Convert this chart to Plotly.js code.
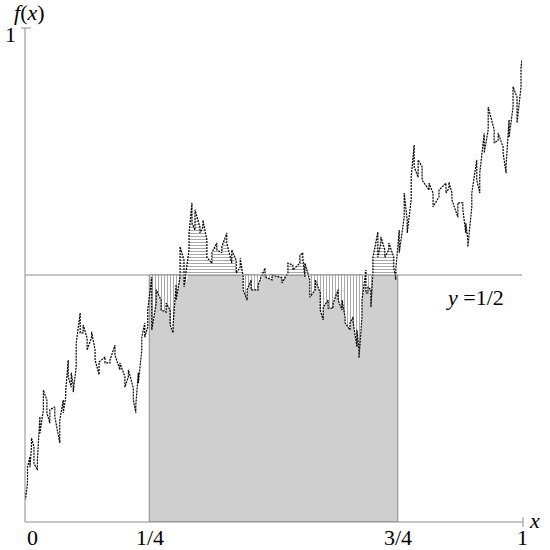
<!DOCTYPE html>
<html><head><meta charset="utf-8">
<script src="https://cdn.plot.ly/plotly-3.0.1.min.js"></script>
<style>html,body{margin:0;padding:0;background:#fff}#chart{width:550px;height:550px}</style>
</head><body><div id="chart"></div>
<script>
// sampled curve: x, and the top / bottom of the dotted streak at each x
const xs = [0.001,0.005,0.010,0.013,0.018,0.025,0.030,0.037,0.044,0.050,0.060,0.070,0.077,0.082,0.087,0.093,0.097,0.103,0.111,0.117,0.125,0.134,0.141,0.149,0.161,0.171,0.181,0.191,0.201,0.208,0.218,0.223,0.228,0.235,0.241,0.247,0.255,0.264,0.274,0.284,0.292,0.298,0.304,0.312,0.320,0.330,0.336,0.342,0.352,0.358,0.366,0.376,0.386,0.396,0.406,0.416,0.425,0.433,0.439,0.447,0.455,0.469,0.483,0.497,0.517,0.529,0.539,0.553,0.559,0.563,0.573,0.584,0.594,0.600,0.610,0.620,0.630,0.638,0.644,0.654,0.660,0.668,0.672,0.678,0.686,0.690,0.696,0.700,0.710,0.716,0.724,0.732,0.742,0.746,0.753,0.763,0.769,0.777,0.783,0.791,0.799,0.813,0.821,0.833,0.847,0.853,0.859,0.871,0.881,0.887,0.891,0.899,0.909,0.915,0.924,0.932,0.944,0.952,0.962,0.968,0.974,0.982,0.990,0.998,1.000];
const yHi = [0.059,0.111,0.132,0.170,0.152,0.126,0.213,0.267,0.247,0.227,0.233,0.206,0.247,0.267,0.328,0.302,0.277,0.362,0.423,0.399,0.372,0.385,0.348,0.324,0.334,0.328,0.358,0.322,0.294,0.308,0.271,0.237,0.302,0.374,0.403,0.429,0.496,0.470,0.449,0.443,0.429,0.399,0.480,0.557,0.530,0.585,0.646,0.632,0.597,0.611,0.571,0.545,0.565,0.557,0.585,0.551,0.530,0.534,0.496,0.470,0.490,0.480,0.514,0.500,0.494,0.524,0.520,0.540,0.545,0.524,0.490,0.490,0.464,0.435,0.449,0.443,0.470,0.449,0.415,0.403,0.415,0.389,0.348,0.449,0.510,0.476,0.470,0.536,0.587,0.577,0.551,0.565,0.536,0.510,0.591,0.666,0.611,0.698,0.763,0.733,0.719,0.686,0.666,0.672,0.686,0.688,0.666,0.646,0.646,0.605,0.571,0.666,0.733,0.706,0.787,0.840,0.794,0.787,0.759,0.723,0.814,0.881,0.860,0.921,0.935];
const yLo = [0.045,0.079,0.111,0.152,0.119,0.105,0.180,0.227,0.221,0.200,0.213,0.160,0.221,0.253,0.294,0.273,0.263,0.314,0.383,0.383,0.348,0.374,0.328,0.298,0.322,0.322,0.338,0.308,0.273,0.294,0.247,0.221,0.281,0.348,0.374,0.395,0.389,0.443,0.429,0.425,0.399,0.383,0.449,0.496,0.476,0.551,0.605,0.591,0.585,0.597,0.536,0.524,0.551,0.545,0.565,0.524,0.504,0.516,0.470,0.449,0.470,0.470,0.496,0.490,0.484,0.504,0.510,0.524,0.534,0.496,0.455,0.470,0.429,0.409,0.433,0.433,0.449,0.429,0.403,0.389,0.405,0.354,0.332,0.415,0.464,0.464,0.435,0.504,0.536,0.565,0.536,0.551,0.516,0.490,0.545,0.617,0.585,0.652,0.719,0.698,0.692,0.672,0.638,0.658,0.666,0.676,0.652,0.617,0.632,0.585,0.557,0.638,0.692,0.666,0.747,0.794,0.767,0.773,0.747,0.706,0.779,0.840,0.808,0.881,0.921];

const level = 0.5;               // y = 1/2
const shadeFrom = 0.25, shadeTo = 0.75;
const xTickVals = [0, 0.25, 0.75, 1];
const xTickText = ['0', '1/4', '3/4', '1'];
const yTickVals = [1];
const yTickText = ['1'];

// zig-zag path through the streaks
const cx = [], cy = [];
xs.forEach((x, i) => {
  const a = yHi[i], b = yLo[i];
  if (i % 2 === 0) { cx.push(x, x); cy.push(a, b); }
  else { cx.push(x, x); cy.push(b, a); }
});

// regions between the curve and y = 1/2 on [1/4, 3/4]
const upX = [shadeFrom], upY = [level], dnX = [shadeFrom], dnY = [level];
cx.forEach((x, i) => {
  if (x >= shadeFrom && x <= shadeTo) {
    upX.push(x); upY.push(Math.max(cy[i], level));
    dnX.push(x); dnY.push(Math.min(cy[i], level));
  }
});
upX.push(shadeTo); upY.push(level);
dnX.push(shadeTo); dnY.push(level);

const grey = '#8c8c8c';
const serif = 'Liberation Serif';
const fs = 22;

const traces = [
  { x: [shadeFrom, shadeFrom, shadeTo, shadeTo, shadeFrom], y: [0, level, level, 0, 0],
    mode: 'lines', fill: 'toself', line: { color: '#888', width: 1 },
    fillcolor: '#ffffff',
    fillpattern: { shape: '+', size: 2, solidity: 0.5, fgcolor: '#9c9c9c', bgcolor: '#ffffff' },
    hoverinfo: 'skip' },
  { x: upX, y: upY, mode: 'none', fill: 'toself', fillcolor: '#ffffff',
    fillpattern: { shape: '-', size: 3, solidity: 0.34, fgcolor: '#a8a8a8', bgcolor: '#ffffff' },
    hoverinfo: 'skip' },
  { x: dnX, y: dnY, mode: 'none', fill: 'toself', fillcolor: '#ffffff',
    fillpattern: { shape: '|', size: 3, solidity: 0.34, fgcolor: '#a8a8a8', bgcolor: '#ffffff' },
    hoverinfo: 'skip' },
  { x: cx, y: cy, mode: 'lines', line: { color: '#000', width: 1.2, dash: '2px,1px' }, cliponaxis: false, hoverinfo: 'skip' }
];

const shapes = [
  { type: 'line', xref: 'paper', yref: 'paper', x0: 0, x1: 0, y0: 0, y1: 1, line: { color: grey, width: 1 } },
  { type: 'line', xref: 'paper', yref: 'paper', x0: -0.008, x1: 0.012, y0: 1, y1: 1, line: { color: grey, width: 1 } },
  { type: 'line', xref: 'paper', yref: 'paper', x0: 0, x1: 1.002, y0: 0, y1: 0, line: { color: grey, width: 1 } },
  { type: 'line', xref: 'paper', yref: 'paper', x0: 1.002, x1: 1.002, y0: -0.01, y1: 0.01, line: { color: grey, width: 1 } },
  { type: 'line', xref: 'paper', yref: 'paper', x0: 0, x1: 1, y0: level, y1: level, line: { color: grey, width: 1 } }
];

const annotations = [];
const tickX = [0.016, 0.2515, 0.75, 1.002];
xTickVals.forEach((v, i) => annotations.push({
  xref: 'paper', yref: 'paper', x: tickX[i], y: -0.032, text: xTickText[i], showarrow: false, borderpad: 0,
  xanchor: 'center', yanchor: 'middle', font: { family: serif, size: fs, color: '#000' } }));
yTickVals.forEach((v, i) => annotations.push({
  xref: 'paper', yref: 'paper', x: -0.030, y: v - 0.014, text: yTickText[i], showarrow: false, borderpad: 0,
  xanchor: 'center', yanchor: 'middle', font: { family: serif, size: fs, color: '#000' } }));
annotations.push({ xref: 'paper', yref: 'paper', x: 0.010, y: 1.032, text: '<i>f</i>(<i>x</i>)', showarrow: false, borderpad: 0,
  xanchor: 'center', yanchor: 'middle', font: { family: serif, size: fs, color: '#000' } });
annotations.push({ xref: 'paper', yref: 'paper', x: 1.026, y: 0.004, text: '<i>x</i>', showarrow: false, borderpad: 0,
  xanchor: 'center', yanchor: 'middle', font: { family: serif, size: fs, color: '#000' } });
annotations.push({ xref: 'paper', yref: 'paper', x: 0.905, y: 0.455, text: '<i>y</i> =1/2', showarrow: false, borderpad: 0,
  xanchor: 'center', yanchor: 'middle', font: { family: serif, size: fs, color: '#000' } });

const layout = {
  width: 550, height: 550,
  margin: { l: 25, r: 28, t: 28, b: 28 },
  paper_bgcolor: '#fff', plot_bgcolor: '#fff',
  showlegend: false,
  xaxis: { range: [0, 1], visible: false, fixedrange: true },
  yaxis: { range: [0, 1], visible: false, fixedrange: true },
  shapes: shapes, annotations: annotations
};

Plotly.newPlot('chart', traces, layout, { staticPlot: true, displayModeBar: false });
</script>
</body></html>
